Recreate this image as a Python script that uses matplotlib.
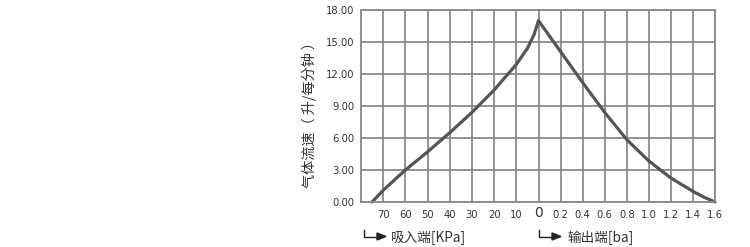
import matplotlib
matplotlib.use("Agg")
import matplotlib.pyplot as plt
from matplotlib.lines import Line2D
from matplotlib.patches import Polygon

plt.rcParams['font.family'] = ['Noto Sans CJK SC', 'DejaVu Sans']

# Suction side (kPa) and output side (bar) data
suction_kpa = [75, 70, 60, 50, 40, 30, 20, 10, 5, 2, 0]
suction_flow = [0.0, 1.1, 3.0, 4.7, 6.5, 8.4, 10.5, 12.9, 14.4, 15.7, 17.0]
output_bar = [0.0, 0.2, 0.4, 0.6, 0.8, 1.0, 1.2, 1.4, 1.5, 1.6]
output_flow = [17.0, 14.1, 11.2, 8.4, 5.85, 3.85, 2.25, 1.0, 0.45, 0.0]

kpa_ticks = [80, 70, 60, 50, 40, 30, 20, 10, 0]
kpa_labels = ['', '70', '60', '50', '40', '30', '20', '10', '']
bar_ticks = [0.0, 0.2, 0.4, 0.6, 0.8, 1.0, 1.2, 1.4, 1.6]
bar_labels = ['', '0.2', '0.4', '0.6', '0.8', '1.0', '1.2', '1.4', '1.6']
zero_label = '0'
y_ticks = [0, 3, 6, 9, 12, 15, 18]
y_labels = ['0.00', '3.00', '6.00', '9.00', '12.00', '15.00', '18.00']

W, H = 750, 247
fig = plt.figure(figsize=(7.5, 2.47), dpi=100)

x0, xm, x1 = 361, 538.5, 715
ytop, ybot = 10, 202
axL = fig.add_axes([x0 / W, (H - ybot) / H, (xm - x0) / W, (ybot - ytop) / H])
axR = fig.add_axes([xm / W, (H - ybot) / H, (x1 - xm) / W, (ybot - ytop) / H], sharey=axL)

grid_c = '#8a8a8a'
line_c = '#555555'
text_c = '#333333'
tick_font = 'DejaVu Sans'

for ax in (axL, axR):
    ax.set_ylim(0, 18)
    ax.grid(True, color=grid_c, linewidth=1.3)
    ax.set_axisbelow(True)
    for s in ax.spines.values():
        s.set_color(grid_c)
        s.set_linewidth(1.3)
    ax.tick_params(length=0, colors=text_c, labelsize=7.2, pad=6)

axL.set_xlim(80, 0)
axL.set_xticks(kpa_ticks)
axL.set_xticklabels(kpa_labels, fontfamily=tick_font)
axL.set_yticks(y_ticks)
axL.set_yticklabels(y_labels, fontfamily=tick_font)
axL.tick_params(axis='y', pad=5)
axL.spines['right'].set_visible(False)
axL.plot(suction_kpa, suction_flow, color=line_c, linewidth=2.3,
         solid_capstyle='round', solid_joinstyle='round', clip_on=False)

axR.set_xlim(0, 1.6)
axR.set_xticks(bar_ticks)
axR.set_xticklabels(bar_labels, fontfamily=tick_font)
axR.spines['left'].set_visible(False)
axR.tick_params(axis='y', left=False, labelleft=False)
axR.plot(output_bar, output_flow, color=line_c, linewidth=2.3,
         solid_capstyle='round', solid_joinstyle='round', clip_on=False)
axR.text(0, -0.058, zero_label, transform=axR.get_xaxis_transform(), fontsize=10,
         fontfamily=tick_font, color=text_c, ha='center', va='center')

axL.set_ylabel('气体流速（ 升/每分钟 ）', fontsize=10.2, color=text_c)
axL.yaxis.set_label_coords(-0.25, 0.47)

def fx(px):
    return px / W

def fy(py):
    return (H - py) / H

def l_arrow(xs, ytop_px, ybot_px, xend):
    fig.add_artist(Line2D([fx(xs), fx(xs), fx(xend - 6)], [fy(ytop_px), fy(ybot_px), fy(ybot_px)],
                          color='#222222', linewidth=1.0))
    fig.add_artist(Polygon([[fx(xend - 9), fy(ybot_px - 3.5)], [fx(xend - 9), fy(ybot_px + 3.5)],
                            [fx(xend), fy(ybot_px)]], closed=True, color='#222222'))

l_arrow(363.5, 230, 236.5, 386)
fig.text(fx(391), fy(238), '吸入端[KPa]', fontsize=9.8, color=text_c, va='center', ha='left')
l_arrow(538.5, 230, 236.5, 561)
fig.text(fx(567), fy(238), '输出端[ba]', fontsize=9.8, color=text_c, va='center', ha='left')

fig.savefig('out.png', dpi=100)
